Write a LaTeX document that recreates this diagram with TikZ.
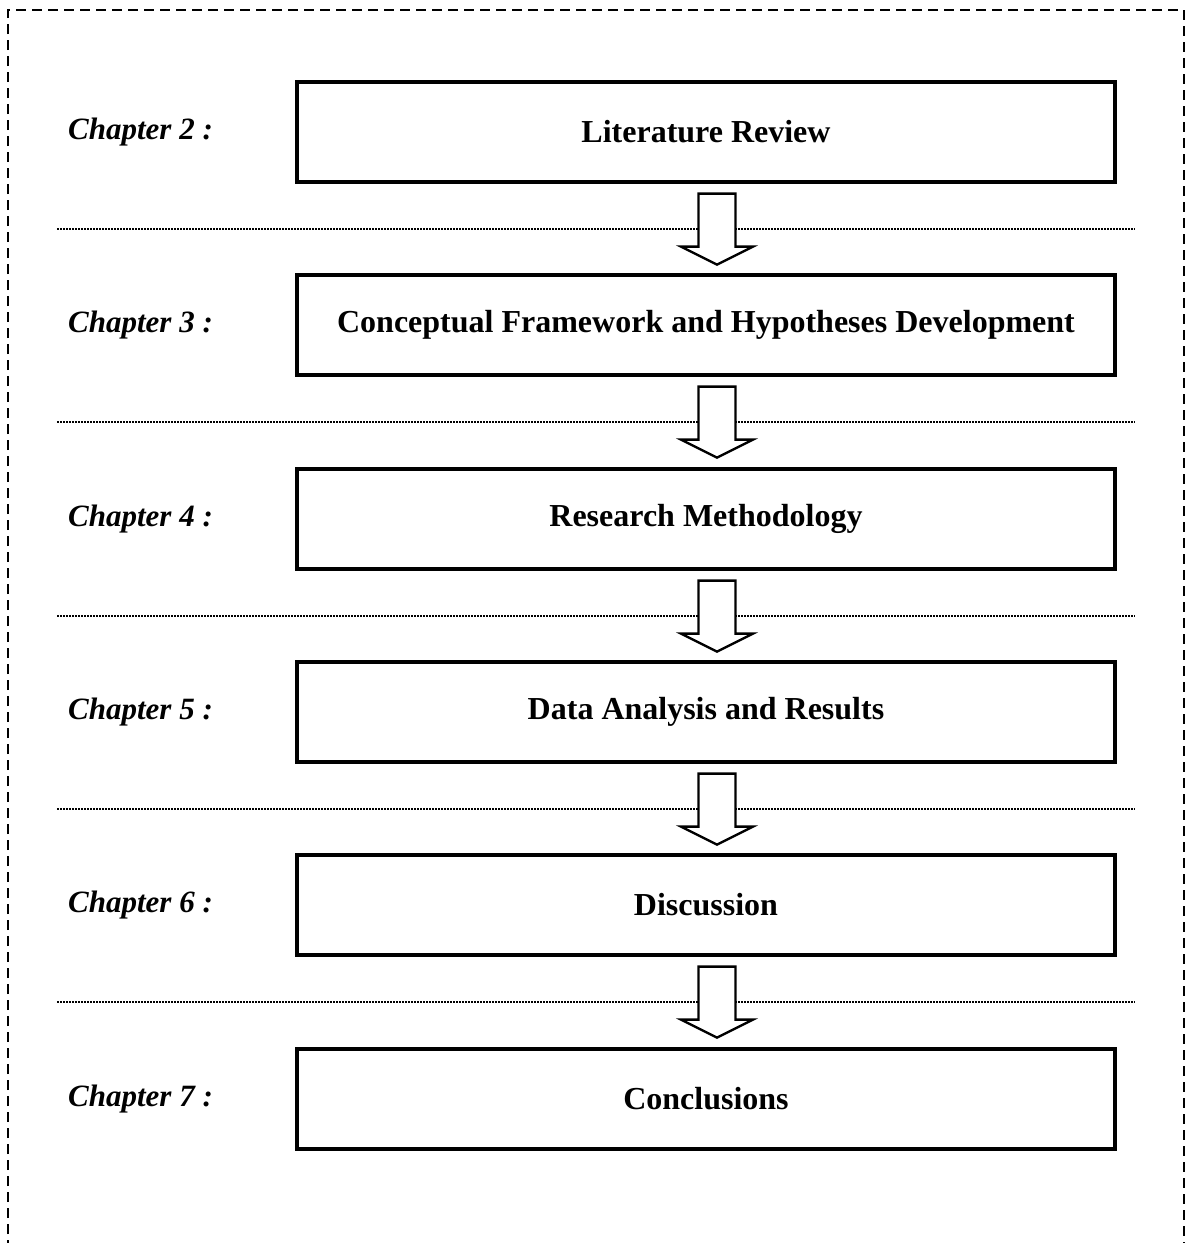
\documentclass[tikz,border=0pt]{standalone}
\usepackage{fontspec}
\setmainfont{Liberation Serif}
\usetikzlibrary{calc}
\begin{document}
\begin{tikzpicture}[x=1pt,y=-1pt,
  chapbox/.style={draw, line width=3.2pt, minimum width=818pt, minimum height=100pt,
    inner sep=0pt, font=\fontsize{32}{38}\selectfont\bfseries},
  chaplabel/.style={anchor=west, inner sep=0pt, font=\fontsize{31}{36}\selectfont\bfseries\itshape},
  sepline/.style={line width=2pt, dash pattern=on 2pt off 1pt},
  blockarrow/.style={draw, fill=white, line width=2.4pt, line join=miter}]
  \useasboundingbox (0,0) rectangle (1187,1243);
  % outer dashed frame (bottom edge lies below the page)
  \draw[line width=2.4pt, dash pattern=on 10pt off 6pt]
    (8,1250) -- (8,10) -- (1184,10) -- (1184,1250);
  % chapter boxes
  \foreach \i/\y/\txt in {1/132/Literature Review,
                          2/325/Conceptual Framework and Hypotheses Development,
                          3/519/Research Methodology,
                          4/712/Data Analysis and Results,
                          5/905/Discussion,
                          6/1099/Conclusions}
    \node[chapbox] (b\i) at (706,\y) {\txt};
  % chapter labels
  \foreach \i/\n in {1/2,2/3,3/4,4/5,5/6,6/7}
    \node[chaplabel] (l\i) at ($(68,0)+(0,0 |- b\i.center)$) {Chapter \n{} :};
  % dotted separators between the rows
  \foreach \i/\j in {1/2,2/3,3/4,4/5,5/6}
    \draw[sepline] ($(57,0)+(0,0 |- b\i.south)!0.5!(0,0 |- b\j.north)$) coordinate (sl\i)
      -- (1135,0 |- sl\i) coordinate (sr\i);
  % hollow block arrows between consecutive boxes
  \foreach \i/\j in {1/2,2/3,3/4,4/5,5/6}
    \draw[blockarrow] ($(717,0 |- b\i.south)+(0,10)$) coordinate (at\i)
      ++(-18.5,0) -- ++(0,53) -- ++(-17.5,0) -- ($(at\i)+(0,71)$)
      -- ++(36,-18) -- ++(-17.5,0) -- ++(0,-53) -- cycle;
\end{tikzpicture}
\end{document}
